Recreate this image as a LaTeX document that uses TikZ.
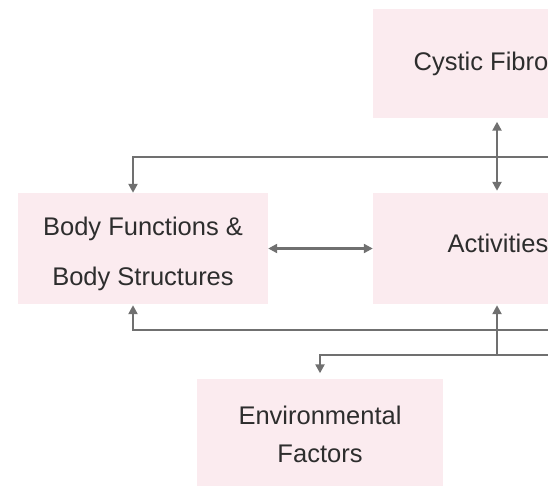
\documentclass[tikz,border=0pt]{standalone}
\usepackage{fontspec}
\setmainfont{Liberation Sans}
\usetikzlibrary{arrows.meta}
\definecolor{boxpink}{RGB}{251,235,239}
\definecolor{linegray}{RGB}{112,112,112}
\definecolor{textgray}{RGB}{45,45,45}
\begin{document}
\begin{tikzpicture}[x=1pt,y=-1pt,
	box_node/.style={rectangle,fill=boxpink,draw=none,minimum width=250pt,minimum height=111pt,inner sep=0pt,align=center,text=textgray,font=\fontsize{25.5}{50}\selectfont},
	arrow_line/.style={draw=linegray,line width=2.6pt,-{Triangle[length=9pt,width=9pt]}},
	both_line/.style={draw=linegray,line width=2.6pt,{Triangle[length=9pt,width=9pt]}-{Triangle[length=9pt,width=9pt]}}]
		
		\useasboundingbox (0,0) rectangle (548,486);
		\clip (0,0) rectangle (548,486);
		
		\node[box_node,minimum width=216pt,minimum height=109pt] (cf) at (481,64) {Cystic Fibro};
		\node[box_node] (body) at (143,248.5) {\rule{0pt}{28.6pt}Body Functions \&\\Body Structures};
		\node[box_node,text depth=10pt] (act) at (498,248.5) {Activities};
		\node[box_node,minimum width=246pt,font=\fontsize{25.5}{38}\selectfont] (env) at (320,434) {Environmental\\Factors};
		
		\coordinate (r1) at (560,157);
		\coordinate (r2) at (560,330);
		\coordinate (r3) at (560,355);
		\coordinate (j3) at (497,355);
		
		\draw[both_line,shorten <=2pt,shorten >=3pt] (act.north -| j3) -- (j3 |- cf.south);
		\draw[arrow_line] (r1) -| ([xshift=-10pt]body.north);
		\draw[both_line] (body.east) -- (act.west);
		\draw[arrow_line,shorten >=1pt] (r2) -| ([xshift=-10pt]body.south);
		\draw[arrow_line,shorten >=1pt] (j3) -- (j3 |- act.south);
		\draw[arrow_line,shorten >=5pt] (r3) -| (env.north);
		\end{tikzpicture}
\end{document}
